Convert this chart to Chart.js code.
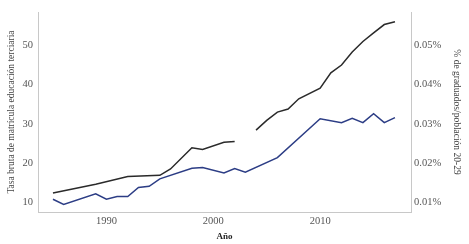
<!DOCTYPE html>
<html>
<head>
<meta charset="utf-8">
<script src="https://cdn.jsdelivr.net/npm/chart.js@4"></script>
<style>
  body { margin: 0; background: #fff; }
</style>
</head>
<body>
<canvas id="myChart" width="469" height="244"></canvas>
<script>
// tasa bruta de matricula (eje izquierdo), null = dato faltante
var tasaYears = [1985, 1989, 1992, 1995, 1996, 1998, 1999, 2001, 2002, 2003, 2004, 2005, 2006, 2007, 2008, 2010, 2011, 2012, 2013, 2014, 2015, 2016, 2017];
var tasaValues = [12.4, 14.6, 16.6, 16.9, 18.5, 23.9, 23.5, 25.3, 25.5, null, 28.4, 30.9, 33.0, 33.8, 36.4, 39.1, 43.0, 45.0, 48.3, 51.0, 53.2, 55.3, 56.0];

// % de graduados / poblacion 20-29 (eje derecho)
var gradYears = [1985, 1986, 1989, 1990, 1991, 1992, 1993, 1994, 1995, 1998, 1999, 2001, 2002, 2003, 2006, 2010, 2012, 2013, 2014, 2015, 2016, 2017];
var gradValues = [0.0108, 0.0095, 0.0122, 0.0108, 0.0115, 0.0115, 0.0138, 0.0141, 0.0160, 0.0187, 0.0189, 0.0175, 0.0186, 0.0177, 0.0214, 0.0313, 0.0303, 0.0314, 0.0303, 0.0326, 0.0303, 0.0316];

var xTicks = [1990, 2000, 2010];
var leftTicks = [10, 20, 30, 40, 50];
var rightTicks = [0.01, 0.02, 0.03, 0.04, 0.05];

function toPoints(xs, ys) {
  return xs.map(function (x, i) { return { x: x, y: ys[i] }; });
}

var serif = "'Liberation Serif', 'DejaVu Serif', serif";
var noGrid = { display: false, drawTicks: false };

var ctx = document.getElementById("myChart").getContext("2d");
var myChart = new Chart(ctx, {
  type: 'line',
  data: {
    datasets: [{
        label: 'Tasa bruta',
        data: toPoints(tasaYears, tasaValues),
        borderColor: '#2a2a2a',
        borderWidth: 1.5,
        pointRadius: 0,
        spanGaps: false,
        yAxisID: 'y'
      },
      {
        label: 'Graduados',
        data: toPoints(gradYears, gradValues),
        borderColor: '#2c3d85',
        borderWidth: 1.5,
        pointRadius: 0,
        yAxisID: 'y1'
    }]
  },
  options: {
    responsive: false,
    animation: false,
    plugins: { legend: { display: false }, tooltip: { enabled: false } },
    layout: { padding: { top: 12, right: 0, left: 0, bottom: 0 } },
    scales: {
      x: {
        type: 'linear',
        min: 1983.6,
        max: 2018.5,
        afterBuildTicks: function (s) { s.ticks = xTicks.map(function (v) { return { value: v }; }); },
        afterFit: function (s) { s.height = 32; },
        grid: noGrid,
        border: { display: true, color: '#c8c8c8', width: 1 },
        ticks: {
          color: '#555', padding: 3, maxRotation: 0, font: { family: serif, size: 10.5 },
          callback: function (v) { return String(v); }
        },
        title: { display: true, text: 'Año', color: '#222', padding: { top: 1, bottom: 1.5 }, font: { family: serif, size: 9, weight: 'bold' } }
      },
      y: {
        position: 'left',
        min: 7.55,
        max: 58.5,
        afterBuildTicks: function (s) { s.ticks = leftTicks.map(function (v) { return { value: v }; }); },
        afterFit: function (s) { s.width = 38; },
        grid: noGrid,
        border: { display: true, color: '#c8c8c8', width: 1 },
        ticks: { color: '#555', padding: 5, font: { family: serif, size: 10.5 } },
        title: { display: true, text: 'Tasa bruta de matrícula educación terciaria', color: '#444', padding: { top: 5.5, bottom: 0 }, font: { family: serif, size: 9.5 } }
      },
      y1: {
        position: 'right',
        min: 0.00755,
        max: 0.0585,
        afterBuildTicks: function (s) { s.ticks = rightTicks.map(function (v) { return { value: v }; }); },
        afterFit: function (s) { s.width = 58; },
        grid: noGrid,
        border: { display: true, color: '#c8c8c8', width: 1 },
        ticks: {
          color: '#555', padding: 3, font: { family: serif, size: 10.5 },
          callback: function (v) { return v.toFixed(2) + '%'; }
        },
        title: { display: true, text: '% de graduados/población 20-29', color: '#444', padding: { top: 7, bottom: 0 }, font: { family: serif, size: 9.5 } }
      }
    }
  }
});
</script>
</body>
</html>
